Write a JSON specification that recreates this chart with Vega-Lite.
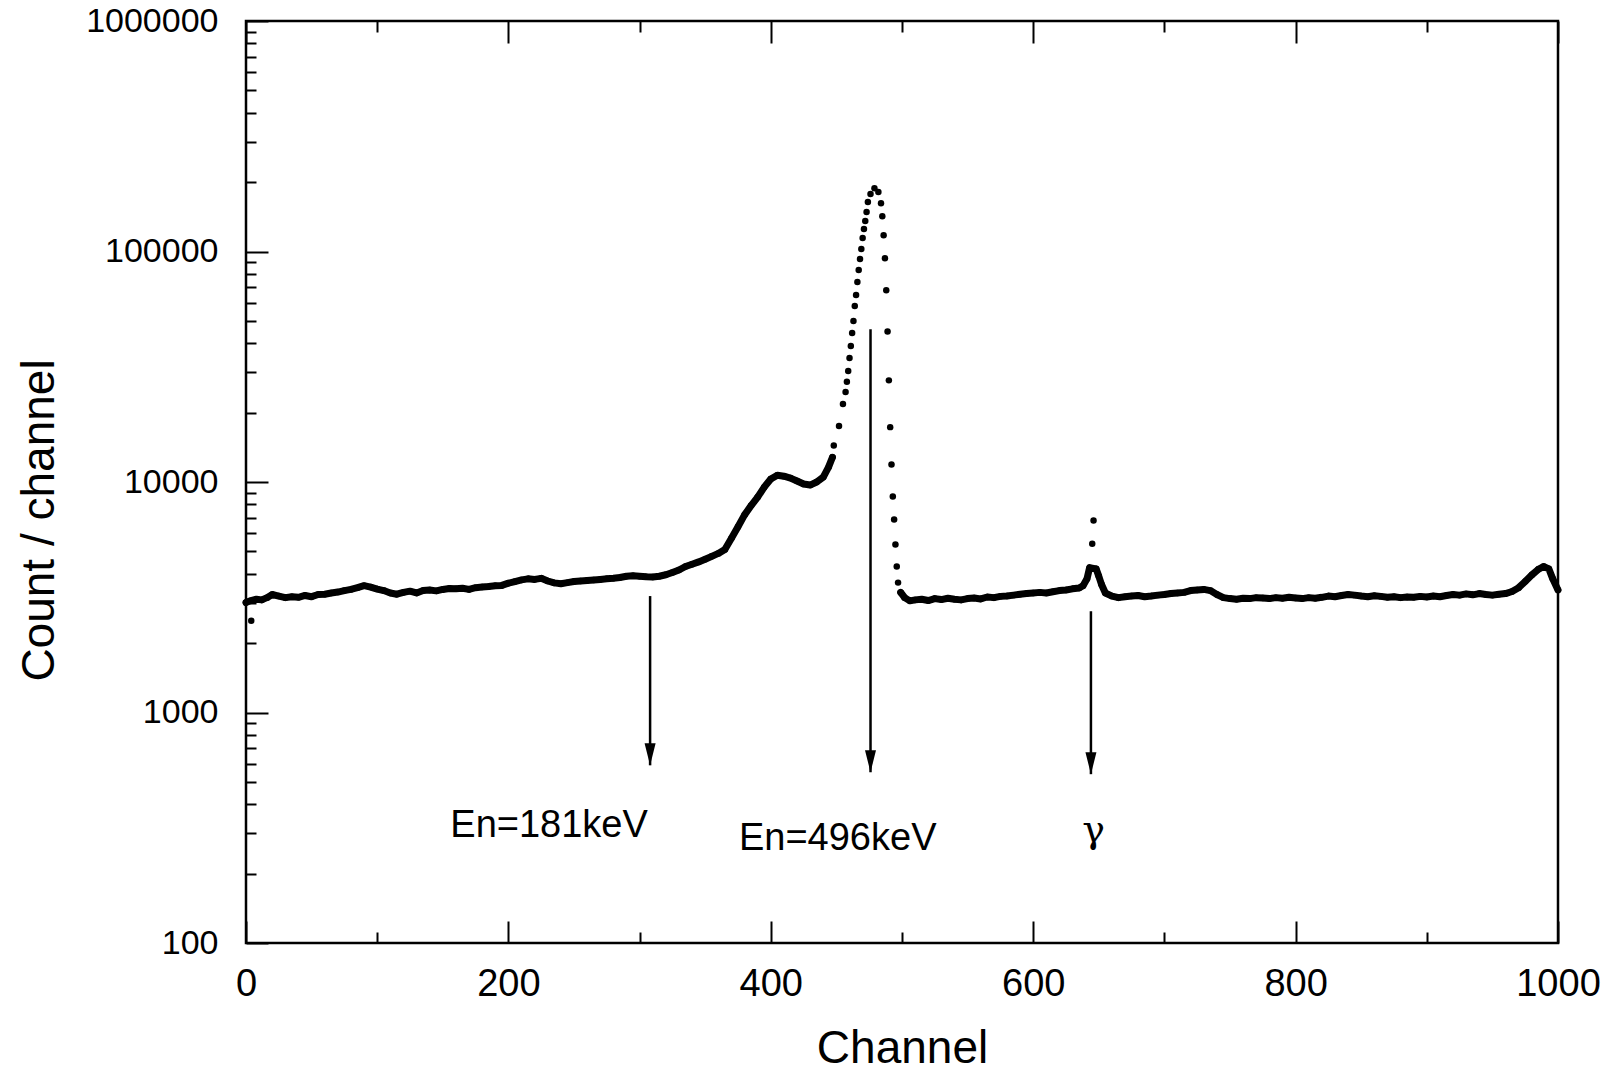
{
  "$schema": "https://vega.github.io/schema/vega-lite/v6.json",
  "width": 1312,
  "height": 922,
  "autosize": {"type": "none"},
  "padding": {"left": 246, "top": 21, "right": 48, "bottom": 128},
  "background": "white",
  "config": {
    "view": {"stroke": "black", "strokeWidth": 2.5},
    "font": "Liberation Sans",
    "axis": {"grid": false, "domain": false, "tickColor": "black", "tickWidth": 2, "labelColor": "black", "titleColor": "black", "labelFont": "Liberation Sans", "titleFont": "Liberation Sans", "labelFontWeight": "normal", "titleFontWeight": "normal"}
  },
  "datasets": {
    "spectrum": [
      {"ch":0,"n":3000},{"ch":3,"n":3050},{"ch":4,"n":2500},{"ch":8,"n":3100},{"ch":12,"n":3080},{"ch":16,"n":3150},{"ch":20,"n":3250},{"ch":25,"n":3200},{"ch":30,"n":3150},{"ch":35,"n":3180},{"ch":40,"n":3160},{"ch":45,"n":3220},{"ch":50,"n":3180},{"ch":55,"n":3250},{"ch":60,"n":3260},{"ch":65,"n":3300},{"ch":70,"n":3330},{"ch":75,"n":3380},{"ch":80,"n":3420},{"ch":85,"n":3480},{"ch":90,"n":3550},{"ch":95,"n":3500},{"ch":100,"n":3430},{"ch":105,"n":3380},{"ch":110,"n":3300},{"ch":115,"n":3260},{"ch":120,"n":3320},{"ch":125,"n":3360},{"ch":130,"n":3300},{"ch":135,"n":3380},{"ch":140,"n":3400},{"ch":145,"n":3370},{"ch":150,"n":3420},{"ch":155,"n":3450},{"ch":160,"n":3440},{"ch":165,"n":3460},{"ch":170,"n":3420},{"ch":175,"n":3480},{"ch":180,"n":3500},{"ch":185,"n":3520},{"ch":190,"n":3550},{"ch":195,"n":3560},{"ch":200,"n":3640},{"ch":205,"n":3700},{"ch":210,"n":3760},{"ch":215,"n":3800},{"ch":220,"n":3780},{"ch":225,"n":3820},{"ch":230,"n":3720},{"ch":235,"n":3650},{"ch":240,"n":3620},{"ch":245,"n":3660},{"ch":250,"n":3700},{"ch":255,"n":3720},{"ch":260,"n":3740},{"ch":265,"n":3760},{"ch":270,"n":3780},{"ch":275,"n":3800},{"ch":280,"n":3820},{"ch":285,"n":3850},{"ch":290,"n":3900},{"ch":295,"n":3920},{"ch":300,"n":3900},{"ch":305,"n":3880},{"ch":310,"n":3870},{"ch":315,"n":3900},{"ch":320,"n":3960},{"ch":325,"n":4050},{"ch":330,"n":4150},{"ch":335,"n":4300},{"ch":340,"n":4400},{"ch":345,"n":4500},{"ch":350,"n":4620},{"ch":355,"n":4760},{"ch":360,"n":4900},{"ch":365,"n":5100},{"ch":370,"n":5700},{"ch":375,"n":6400},{"ch":380,"n":7200},{"ch":385,"n":7900},{"ch":390,"n":8600},{"ch":395,"n":9500},{"ch":400,"n":10300},{"ch":405,"n":10700},{"ch":410,"n":10600},{"ch":415,"n":10400},{"ch":420,"n":10100},{"ch":425,"n":9800},{"ch":430,"n":9700},{"ch":435,"n":10000},{"ch":440,"n":10500},{"ch":444,"n":11600},{"ch":447,"n":12800},
      {"ch":448,"n":14400},{"ch":452,"n":17500},{"ch":455,"n":21800},{"ch":457,"n":24600},{"ch":458,"n":27200},{"ch":459,"n":30300},{"ch":460,"n":34500},{"ch":461,"n":38900},{"ch":462,"n":44300},{"ch":463,"n":49900},{"ch":464,"n":58000},{"ch":465,"n":64700},{"ch":466,"n":73700},{"ch":467,"n":83200},{"ch":468,"n":92800},{"ch":469,"n":102500},{"ch":470,"n":114500},{"ch":471,"n":125300},{"ch":472,"n":135600},{"ch":473,"n":148400},{"ch":474,"n":164000},{"ch":476,"n":177600},{"ch":479,"n":188200},{"ch":482,"n":181000},{"ch":484,"n":162000},{"ch":485,"n":142300},{"ch":486,"n":117700},{"ch":487,"n":93400},{"ch":488,"n":67900},{"ch":489,"n":45000},{"ch":490,"n":27600},{"ch":491,"n":17300},{"ch":492,"n":11900},{"ch":493,"n":8660},{"ch":494,"n":6880},{"ch":495,"n":5360},{"ch":496,"n":4300},{"ch":497,"n":3660},{"ch":499,"n":3320},
      {"ch":502,"n":3150},{"ch":506,"n":3050},{"ch":510,"n":3080},{"ch":515,"n":3100},{"ch":520,"n":3060},{"ch":525,"n":3120},{"ch":530,"n":3090},{"ch":535,"n":3130},{"ch":540,"n":3100},{"ch":545,"n":3080},{"ch":550,"n":3120},{"ch":555,"n":3140},{"ch":560,"n":3110},{"ch":565,"n":3170},{"ch":570,"n":3150},{"ch":575,"n":3190},{"ch":580,"n":3200},{"ch":585,"n":3230},{"ch":590,"n":3260},{"ch":595,"n":3280},{"ch":600,"n":3300},{"ch":605,"n":3320},{"ch":610,"n":3300},{"ch":615,"n":3340},{"ch":620,"n":3380},{"ch":625,"n":3400},{"ch":630,"n":3440},{"ch":635,"n":3470},{"ch":638,"n":3550},{"ch":641,"n":3800},{"ch":643,"n":4250},{"ch":645,"n":5400},{"ch":646,"n":6800},{"ch":648,"n":4200},{"ch":650,"n":3900},{"ch":652,"n":3600},{"ch":655,"n":3300},
      {"ch":660,"n":3200},{"ch":665,"n":3150},{"ch":670,"n":3180},{"ch":675,"n":3200},{"ch":680,"n":3220},{"ch":685,"n":3180},{"ch":690,"n":3200},{"ch":695,"n":3230},{"ch":700,"n":3250},{"ch":705,"n":3280},{"ch":710,"n":3300},{"ch":715,"n":3320},{"ch":720,"n":3380},{"ch":725,"n":3400},{"ch":730,"n":3420},{"ch":735,"n":3380},{"ch":740,"n":3250},{"ch":745,"n":3150},{"ch":750,"n":3120},{"ch":755,"n":3100},{"ch":760,"n":3130},{"ch":765,"n":3120},{"ch":770,"n":3150},{"ch":775,"n":3140},{"ch":780,"n":3120},{"ch":785,"n":3150},{"ch":790,"n":3130},{"ch":795,"n":3160},{"ch":800,"n":3140},{"ch":805,"n":3120},{"ch":810,"n":3150},{"ch":815,"n":3130},{"ch":820,"n":3160},{"ch":825,"n":3200},{"ch":830,"n":3180},{"ch":835,"n":3220},{"ch":840,"n":3250},{"ch":845,"n":3230},{"ch":850,"n":3200},{"ch":855,"n":3180},{"ch":860,"n":3210},{"ch":865,"n":3190},{"ch":870,"n":3160},{"ch":875,"n":3180},{"ch":880,"n":3150},{"ch":885,"n":3170},{"ch":890,"n":3160},{"ch":895,"n":3190},{"ch":900,"n":3170},{"ch":905,"n":3200},{"ch":910,"n":3180},{"ch":915,"n":3220},{"ch":920,"n":3250},{"ch":925,"n":3230},{"ch":930,"n":3270},{"ch":935,"n":3240},{"ch":940,"n":3280},{"ch":945,"n":3250},{"ch":950,"n":3230},{"ch":955,"n":3260},{"ch":960,"n":3280},{"ch":965,"n":3350},{"ch":970,"n":3480},{"ch":975,"n":3700},{"ch":980,"n":3950},{"ch":985,"n":4180},{"ch":989,"n":4300},{"ch":993,"n":4200},{"ch":996,"n":3800},{"ch":1000,"n":3400}
    ],
    "arrows": [
      {"ch":308,"top":3200,"tip":590},
      {"ch":476,"top":46000,"tip":550},
      {"ch":644,"top":2750,"tip":540}
    ],
    "labels": [
      {"ch":231,"n":322,"t":"En=181keV"},
      {"ch":451,"n":283,"t":"En=496keV"},
      {"ch":646,"n":305,"t":"γ"}
    ]
  },
  "layer": [
    {
      "data": {"name": "spectrum"},
      "transform": [{"filter": "datum.ch <= 447 && datum.n > 2700"}],
      "mark": {"type": "line", "color": "black", "strokeWidth": 7, "strokeJoin": "round", "strokeCap": "round"},
      "encoding": {
        "x": {"field": "ch", "type": "quantitative", "scale": {"domain": [0, 1000], "nice": false, "zero": false},
          "axis": {"orient": "bottom", "title": "Channel", "values": [0,100,200,300,400,500,600,700,800,900,1000], "format": "d",
            "labelExpr": "datum.value % 200 === 0 ? datum.label : ''",
            "tickSize": {"condition": {"test": "datum.value % 200 === 0", "value": -22}, "value": -11},
            "labelPadding": 44, "labelFontSize": 38, "labelFlush": false, "labelOverlap": false,
            "titleFontSize": 46, "titlePadding": 12}},
        "y": {"field": "n", "type": "quantitative", "scale": {"type": "log", "domain": [100, 1000000], "nice": false},
          "axis": {"orient": "left", "title": "Count / channel",
            "values": [100,200,300,400,500,600,700,800,900,1000,2000,3000,4000,5000,6000,7000,8000,9000,10000,20000,30000,40000,50000,60000,70000,80000,90000,100000,200000,300000,400000,500000,600000,700000,800000,900000,1000000],
            "labelExpr": "abs(log(datum.value)/LN10 - round(log(datum.value)/LN10)) < 1e-6 ? format(datum.value, 'd') : ''",
            "tickSize": {"condition": {"test": "abs(log(datum.value)/LN10 - round(log(datum.value)/LN10)) < 1e-6", "value": -22}, "value": -10},
            "labelPadding": 50, "labelFontSize": 34, "labelOverlap": false, "labelFlush": false,
            "titleFontSize": 46, "titleX": -207, "titleY": 499, "titleBaseline": "middle", "titleAngle": -90, "titleAlign": "center"}}
      }
    },
    {
      "data": {"name": "spectrum"},
      "transform": [{"filter": "datum.ch >= 499 && (datum.ch <= 643 || datum.ch >= 648)"}],
      "mark": {"type": "line", "color": "black", "strokeWidth": 7, "strokeJoin": "round", "strokeCap": "round"},
      "encoding": {
        "x": {"field": "ch", "type": "quantitative", "axis": null},
        "y": {"field": "n", "type": "quantitative", "axis": null}
      }
    },
    {
      "data": {"name": "spectrum"},
      "mark": {"type": "point", "filled": true, "color": "black", "opacity": 1, "size": 42},
      "encoding": {
        "x": {"field": "ch", "type": "quantitative", "axis": null},
        "y": {"field": "n", "type": "quantitative", "axis": null}
      }
    },
    {
      "data": {"name": "arrows"},
      "mark": {"type": "rule", "color": "black", "strokeWidth": 2.5},
      "encoding": {
        "x": {"field": "ch", "type": "quantitative", "axis": null},
        "y": {"field": "top", "type": "quantitative", "axis": null},
        "y2": {"field": "tip"}
      }
    },
    {
      "data": {"name": "arrows"},
      "mark": {"type": "point", "filled": true, "color": "black", "opacity": 1, "size": 484, "shape": "M -0.5 -2 L 0.5 -2 L 0 0 Z"},
      "encoding": {
        "x": {"field": "ch", "type": "quantitative", "axis": null},
        "y": {"field": "tip", "type": "quantitative", "axis": null}
      }
    },
    {
      "data": {"name": "labels"},
      "transform": [{"filter": "datum.t !== 'γ'"}],
      "mark": {"type": "text", "color": "black", "fontSize": 38, "font": "Liberation Sans", "align": "center", "baseline": "middle"},
      "encoding": {
        "x": {"field": "ch", "type": "quantitative",
          "axis": {"orient": "top", "title": null, "labels": false, "values": [0,100,200,300,400,500,600,700,800,900,1000],
            "tickSize": {"condition": {"test": "datum.value % 200 === 0", "value": -22}, "value": -11}}},
        "y": {"field": "n", "type": "quantitative", "axis": null},
        "text": {"field": "t"}
      }
    },
    {
      "data": {"name": "labels"},
      "transform": [{"filter": "datum.t === 'γ'"}],
      "mark": {"type": "text", "color": "black", "fontSize": 38, "font": "DejaVu Serif", "align": "center", "baseline": "middle"},
      "encoding": {
        "x": {"field": "ch", "type": "quantitative", "axis": null},
        "y": {"field": "n", "type": "quantitative", "axis": null},
        "text": {"field": "t"}
      }
    }
  ],
  "resolve": {"axis": {"x": "independent", "y": "independent"}}
}
